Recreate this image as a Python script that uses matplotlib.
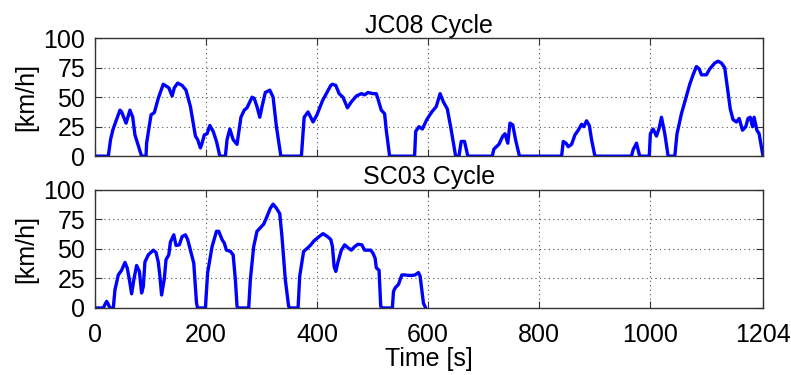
import matplotlib
matplotlib.use("Agg")
import matplotlib.pyplot as plt

# JC08 speed trace: time [s] and speed [km/h]
jc08_t = [0, 24, 28, 32, 38, 45, 48, 56, 63, 68, 72, 84, 92, 93, 101, 107, 114, 123, 133, 139,
          143, 149, 157, 164, 172, 181, 185, 190, 193, 197, 202, 207, 213, 219, 225, 235, 238,
          243, 249, 256, 263, 269, 274, 283, 287, 292, 297, 301, 307, 315, 321, 327, 335, 372,
          377, 384, 393, 400, 410, 418, 425, 428, 434, 440, 447, 455, 462, 471, 480, 486, 492,
          501, 507, 511, 516, 522, 525, 531, 576, 578, 584, 590, 598, 607, 615, 622, 628, 635,
          641, 650, 656, 660, 666, 672, 716, 719, 728, 735, 739, 744, 748, 753, 758, 765, 841,
          844, 849, 853, 859, 865, 871, 877, 881, 886, 891, 895, 901, 967, 970, 976, 981, 983,
          999, 1001, 1006, 1012, 1017, 1021, 1027, 1033, 1045, 1049, 1057, 1066, 1072, 1078,
          1084, 1089, 1093, 1102, 1108, 1117, 1123, 1129, 1135, 1141, 1145, 1150, 1156, 1161,
          1167, 1173, 1177, 1181, 1185, 1188, 1193, 1197, 1204]
jc08_v = [0, 0, 14, 22, 30, 39, 37.5, 28, 39, 33, 18, 0, 0, 11, 35, 37, 49, 61, 58, 51,
          58, 62, 60, 56, 42, 17, 14, 7, 11, 18, 19, 26, 21, 12.5, 0, 0, 14,
          23, 14, 10, 33, 39, 41, 50, 49, 42, 33, 42, 54, 56, 50, 25, 0, 0,
          33, 37.5, 29, 35, 47, 54, 60, 61, 60, 53, 50, 41, 46, 51, 53, 52, 54,
          53, 53, 47, 39, 36, 22, 0, 0, 21, 25, 23, 31, 37.5, 42, 53, 46, 40,
          25, 0, 0, 12.5, 12.5, 0, 0, 6, 10, 17, 19, 11, 28, 26.5, 14, 0, 0,
          12.5, 11, 8, 10, 18, 22, 27, 25, 30, 26, 14, 0, 0, 5.5, 11, 1.4, 0,
          0, 19, 23, 17, 24, 33, 19, 0, 0, 19, 36, 51, 61, 69,
          76, 74, 69, 69, 74, 79, 80.5, 79, 75, 54, 40, 31, 29, 32,
          22, 25, 32, 33, 25, 33, 22, 19, 0]

# SC03 speed trace: time [s] and speed [km/h]
sc03_t = [0, 15, 18, 21, 24, 27, 33, 36, 42, 48, 54, 58, 62, 66, 70, 75, 80, 84, 87, 90, 96,
          105, 110, 114, 117, 120, 125, 128, 133, 136, 142, 146, 152, 157, 163, 167, 172, 178,
          183, 185, 199, 203, 211, 219, 223, 229, 233, 237, 244, 249, 253, 256, 257, 277, 280,
          286, 292, 298, 304, 310, 316, 321, 327, 333, 337, 343, 349, 352, 366, 369, 376, 383,
          389, 395, 404, 411, 419, 425, 428, 431, 434, 438, 444, 450, 456, 462, 468, 474, 481,
          486, 492, 497, 501, 505, 507, 512, 515, 518, 536, 538, 541, 547, 553, 559, 565, 571,
          577, 583, 586, 589, 592, 596]
sc03_v = [0, 0, 3, 5.6, 3, 0, 0, 15.5, 28, 32, 38.6, 34, 24, 12, 24, 36, 31, 12.7, 18, 39, 45,
          49, 47, 39, 27, 11, 25, 41, 45, 56, 62, 53, 53.5, 60.5, 62, 58, 49, 38,
          4, 0, 0, 30, 52, 65, 65, 58, 55, 49, 48, 45, 24, 1.4, 0, 0, 24,
          52, 65, 68, 71, 77.5, 84.5, 88, 84.5, 80, 60.5, 24, 1.4, 0, 0, 27, 48, 50.7,
          53.5, 57, 60.5, 63, 60.5, 58, 52, 35, 31, 39, 49, 53.5, 51, 49, 52, 54, 53.5,
          49, 49, 49, 46.5, 42, 34, 32, 1.4, 0, 0, 14, 17, 20, 28, 28, 27.6, 27.6,
          28, 30, 27, 15.5, 4, 0]

titles = ["JC08 Cycle", "SC03 Cycle"]
x_ticks = [0, 200, 400, 600, 800, 1000, 1204]
y_ticks = [0, 25, 50, 75, 100]
x_max = 1204
y_max = 100

plt.rcParams["font.family"] = ["Liberation Sans", "DejaVu Sans"]
fs = 18

fig = plt.figure(figsize=(7.91, 3.75), dpi=100)
ax_top = fig.add_axes([0.1201, 0.5836, 0.8445, 0.3144])
ax_bot = fig.add_axes([0.1201, 0.1787, 0.8445, 0.3147])

for ax, t, v, title in [(ax_top, jc08_t, jc08_v, titles[0]), (ax_bot, sc03_t, sc03_v, titles[1])]:
    ax.plot(t, v, color="#0000ff", linewidth=2.4, solid_joinstyle="round")
    ax.set_xlim(0, x_max)
    ax.set_ylim(0, y_max)
    ax.set_xticks(x_ticks)
    ax.set_yticks(y_ticks)
    ax.grid(True, linestyle=(0, (1, 3)), color="#555555", linewidth=0.8)
    ax.tick_params(direction="in", top=True, right=True, length=5, width=0.8,
                   labelsize=fs, color="#333333")
    ax.tick_params(axis="y", pad=7)
    ax.tick_params(axis="x", pad=11)
    for s in ax.spines.values():
        s.set_color("#333333")
        s.set_linewidth(1.0)
    ax.set_title(title, fontsize=fs, pad=4)
    ax.set_ylabel("[km/h]", fontsize=fs, labelpad=4)

ax_top.tick_params(labelbottom=False)
ax_bot.set_xlabel("Time [s]", fontsize=fs, labelpad=0)

fig.savefig("out.png", dpi=100)
